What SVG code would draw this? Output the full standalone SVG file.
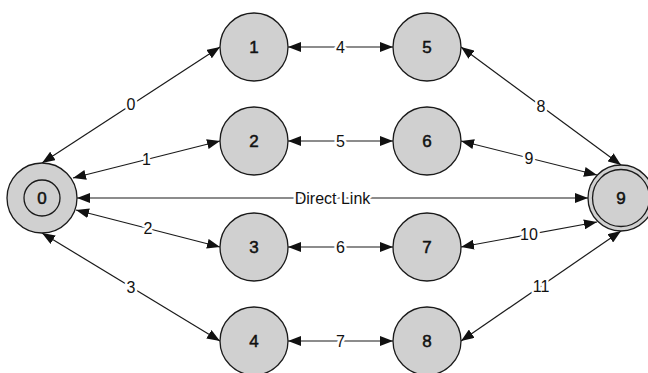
<svg xmlns="http://www.w3.org/2000/svg" width="648" height="373" viewBox="0 0 648 373">
  <style>
    .node { fill: #d0d0d0; stroke: #1a1a1a; stroke-width: 1.3; }
    .ring { fill: none; stroke: #1a1a1a; stroke-width: 1.3; }
    .nlabel { font-family: "Liberation Sans", Arial, sans-serif; font-size: 17px; fill: #111; text-anchor: middle;
              stroke: #111; stroke-width: 0.5; }
    .edge { stroke: #1a1a1a; stroke-width: 1.2; fill: none; marker-start: url(#arrow); marker-end: url(#arrow); }
    .elabel { font-family: "Liberation Sans", Arial, sans-serif; font-size: 16px; fill: #111; text-anchor: middle;
              stroke: #fff; stroke-width: 5; stroke-linejoin: round; paint-order: stroke; }
  </style>
  <defs>
    <marker id="arrow" markerUnits="userSpaceOnUse" markerWidth="14" markerHeight="10" refX="13" refY="5" orient="auto-start-reverse">
      <path d="M0,0 L13,5 L0,10 Z" fill="#111"/>
    </marker>
  </defs>

  <!-- connectors -->
  <g id="edges">
    <line class="edge" x1="42" y1="163" x2="220" y2="47"/>
    <line class="edge" x1="73" y1="178" x2="220" y2="141"/>
    <line class="edge" x1="76" y1="210" x2="220" y2="247"/>
    <line class="edge" x1="42" y1="233" x2="220" y2="341"/>
    <line class="edge" x1="77" y1="198" x2="588" y2="198"/>
    <line class="edge" x1="288" y1="47" x2="393" y2="47"/>
    <line class="edge" x1="288" y1="141" x2="393" y2="141"/>
    <line class="edge" x1="288" y1="247" x2="393" y2="247"/>
    <line class="edge" x1="288" y1="341" x2="393" y2="341"/>
    <line class="edge" x1="461" y1="47" x2="621" y2="165"/>
    <line class="edge" x1="461" y1="141" x2="597" y2="175"/>
    <line class="edge" x1="461" y1="247" x2="597" y2="222"/>
    <line class="edge" x1="461" y1="341" x2="621" y2="231"/>

    <text class="elabel" x="131" y="104.5" dy="0.35em">0</text>
    <text class="elabel" x="146.5" y="159.5" dy="0.35em">1</text>
    <text class="elabel" x="148" y="228.5" dy="0.35em">2</text>
    <text class="elabel" x="131" y="287" dy="0.35em">3</text>
    <text class="elabel" x="332.5" y="198" dy="0.35em">Direct Link</text>
    <text class="elabel" x="340.5" y="47" dy="0.35em">4</text>
    <text class="elabel" x="340.5" y="141" dy="0.35em">5</text>
    <text class="elabel" x="340.5" y="247" dy="0.35em">6</text>
    <text class="elabel" x="340.5" y="341" dy="0.35em">7</text>
    <text class="elabel" x="541" y="106" dy="0.35em">8</text>
    <text class="elabel" x="529" y="158" dy="0.35em">9</text>
    <text class="elabel" x="529" y="234.5" dy="0.35em">10</text>
    <text class="elabel" x="541" y="286" dy="0.35em">11</text>
  </g>

  <!-- nodes -->
  <g id="node0">
    <circle class="node" cx="42" cy="198" r="35"/>
    <circle class="ring" cx="42" cy="198" r="18"/>
    <text class="nlabel" x="42" y="198" dy="0.35em">0</text>
  </g>
  <g id="node1">
    <circle class="node" cx="254" cy="47" r="34"/>
    <text class="nlabel" x="254" y="47" dy="0.35em">1</text>
  </g>
  <g id="node2">
    <circle class="node" cx="254" cy="141" r="34"/>
    <text class="nlabel" x="254" y="141" dy="0.35em">2</text>
  </g>
  <g id="node3">
    <circle class="node" cx="254" cy="247" r="34"/>
    <text class="nlabel" x="254" y="247" dy="0.35em">3</text>
  </g>
  <g id="node4">
    <circle class="node" cx="254" cy="341" r="34"/>
    <text class="nlabel" x="254" y="341" dy="0.35em">4</text>
  </g>
  <g id="node5">
    <circle class="node" cx="427" cy="47" r="34"/>
    <text class="nlabel" x="427" y="47" dy="0.35em">5</text>
  </g>
  <g id="node6">
    <circle class="node" cx="427" cy="141" r="34"/>
    <text class="nlabel" x="427" y="141" dy="0.35em">6</text>
  </g>
  <g id="node7">
    <circle class="node" cx="427" cy="247" r="34"/>
    <text class="nlabel" x="427" y="247" dy="0.35em">7</text>
  </g>
  <g id="node8">
    <circle class="node" cx="427" cy="341" r="34"/>
    <text class="nlabel" x="427" y="341" dy="0.35em">8</text>
  </g>
  <g id="node9">
    <circle class="node" cx="621" cy="198" r="33"/>
    <circle class="ring" cx="621" cy="198" r="28.5"/>
    <text class="nlabel" x="621" y="198" dy="0.35em">9</text>
  </g>
</svg>
